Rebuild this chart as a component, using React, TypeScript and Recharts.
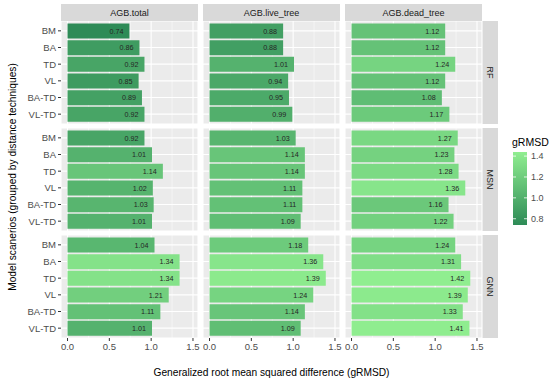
import { BarChart, Bar, XAxis, YAxis, CartesianGrid, Cell, LabelList } from 'recharts';

const SCENARIOS = ['BM', 'BA', 'TD', 'VL', 'BA-TD', 'VL-TD'];
const RESPONSES = ['AGB.total', 'AGB.live_tree', 'AGB.dead_tree'];
const MODELS = ['RF', 'MSN', 'GNN'];

const RF_TOTAL = [0.74, 0.86, 0.92, 0.85, 0.89, 0.92];
const RF_LIVE = [0.88, 0.88, 1.01, 0.94, 0.95, 0.99];
const RF_DEAD = [1.12, 1.12, 1.24, 1.12, 1.08, 1.17];
const MSN_TOTAL = [0.92, 1.01, 1.14, 1.02, 1.03, 1.01];
const MSN_LIVE = [1.03, 1.14, 1.14, 1.11, 1.11, 1.09];
const MSN_DEAD = [1.27, 1.23, 1.28, 1.36, 1.16, 1.22];
const GNN_TOTAL = [1.04, 1.34, 1.34, 1.21, 1.11, 1.01];
const GNN_LIVE = [1.18, 1.36, 1.39, 1.24, 1.14, 1.09];
const GNN_DEAD = [1.24, 1.31, 1.42, 1.39, 1.33, 1.41];

const X_TICKS = [0, 0.5, 1, 1.5];
const X_MINOR = [0.25, 0.75, 1.25];
const LEGEND_TICKS = [1.4, 1.2, 1.0, 0.8];

const GRID = [
  [RF_TOTAL, RF_LIVE, RF_DEAD],
  [MSN_TOTAL, MSN_LIVE, MSN_DEAD],
  [GNN_TOTAL, GNN_LIVE, GNN_DEAD],
];

const LOW = [46, 139, 87]; // seagreen
const HIGH = [144, 238, 144]; // lightgreen
const VMIN = 0.74;
const VMAX = 1.42;

function fillFor(v: number) {
  const t = Math.max(0, Math.min(1, (v - VMIN) / (VMAX - VMIN)));
  const c = LOW.map((l, i) => Math.round(l + (HIGH[i] - l) * t));
  return `rgb(${c[0]},${c[1]},${c[2]})`;
}

const FONT = '"Liberation Sans", Arial, sans-serif';
const COL_X = [61, 203, 345];
const ROW_Y = [21, 128, 235];
const PW = 137;
const PH = 103;
const YAXIS_W = 55;
const XAXIS_H = 22;
const EXTRA_R = 10;

function Panel({ values, row, col }: { values: number[]; row: number; col: number }) {
  const data = SCENARIOS.map((s, i) => ({ scenario: s, value: values[i] }));
  const showY = col === 0;
  const showX = row === 2;
  const w = PW + (showY ? YAXIS_W : 0) + EXTRA_R;
  const h = PH + (showX ? XAXIS_H : 0);
  return (
    <div style={{ position: 'absolute', left: COL_X[col] - (showY ? YAXIS_W : 0), top: ROW_Y[row] }}>
      <BarChart width={w} height={h} data={data} layout="vertical" margin={{ top: 0, right: EXTRA_R, bottom: 0, left: 0 }}>
        <CartesianGrid stroke="#ffffff" strokeWidth={1.1} fill="#EBEBEB" fillOpacity={1} />
        <CartesianGrid stroke="#ffffff" strokeWidth={0.5} horizontal={false} verticalValues={X_MINOR} />
        <XAxis
          type="number"
          domain={[-0.078, 1.56]}
          allowDataOverflow
          ticks={X_TICKS}
          interval={0}
          hide={!showX}
          height={XAXIS_H}
          axisLine={false}
          tickSize={3}
          tickLine={{ stroke: '#333333' }}
          tick={{ fontSize: 9.5, fill: '#4D4D4D', fontFamily: FONT }}
          tickFormatter={(v: number) => v.toFixed(1)}
        />
        <YAxis
          type="category"
          dataKey="scenario"
          hide={!showY}
          width={YAXIS_W}
          interval={0}
          padding={{ top: 1.5, bottom: 1.5 }}
          axisLine={false}
          tickSize={3}
          tickLine={{ stroke: '#333333' }}
          tick={{ fontSize: 9.5, fill: '#4D4D4D', fontFamily: FONT }}
        />
        <Bar dataKey="value" barSize={15} isAnimationActive={false}>
          {data.map((d, i) => (
            <Cell key={`c-${i}`} fill={fillFor(d.value)} />
          ))}
          <LabelList
            dataKey="value"
            position="insideRight"
            offset={6}
            formatter={(v: number) => v.toFixed(2)}
            style={{ fontSize: 7.2, fill: '#262626', fontFamily: FONT }}
          />
        </Bar>
      </BarChart>
    </div>
  );
}

export default function App() {
  return (
    <div style={{ position: 'absolute', left: 0, top: 0, width: 550, height: 382, background: '#fff', fontFamily: FONT }}>
      <svg width={550} height={382} style={{ position: 'absolute', left: 0, top: 0 }}>
        <defs>
          <linearGradient id="gbar" x1="0" y1="1" x2="0" y2="0">
            <stop offset="0%" stopColor={fillFor(VMIN)} />
            <stop offset="50%" stopColor={fillFor((VMIN + VMAX) / 2)} />
            <stop offset="100%" stopColor={fillFor(VMAX)} />
          </linearGradient>
        </defs>
        {RESPONSES.map((r, c) => (
          <g key={r}>
            <rect x={COL_X[c]} y={4} width={PW} height={17} fill="#D9D9D9" />
            <text x={COL_X[c] + PW / 2} y={16} textAnchor="middle" fontSize={9} fill="#1A1A1A" fontFamily={FONT}>
              {r}
            </text>
          </g>
        ))}
        {MODELS.map((m, r) => (
          <g key={m}>
            <rect x={482} y={ROW_Y[r]} width={16} height={PH} fill="#D9D9D9" />
            <text
              transform={`translate(486.5, ${ROW_Y[r] + PH / 2}) rotate(90)`}
              textAnchor="middle"
              fontSize={9}
              fill="#1A1A1A"
              fontFamily={FONT}
            >
              {m}
            </text>
          </g>
        ))}
        <text x={271.5} y={375.5} textAnchor="middle" fontSize={10.2} fill="#000" fontFamily={FONT}>
          Generalized root mean squared difference (gRMSD)
        </text>
        <text
          transform="translate(15.5, 177) rotate(-90)"
          textAnchor="middle"
          fontSize={10.2}
          fill="#000"
          fontFamily={FONT}
        >
          Model scanerios (grouped by distance techniques)
        </text>
        <text x={512} y={146} fontSize={10.5} fill="#000" fontFamily={FONT}>
          gRMSD
        </text>
        <rect x={513} y={152} width={14} height={73} fill="url(#gbar)" />
        {LEGEND_TICKS.map((t) => {
          const y = 154 + ((VMAX - t) / (VMAX - VMIN)) * 71;
          return (
            <g key={t}>
              <line x1={513} x2={516} y1={y} y2={y} stroke="#fff" strokeWidth={0.8} />
              <line x1={524} x2={527} y1={y} y2={y} stroke="#fff" strokeWidth={0.8} />
              <text x={531} y={y + 3.2} fontSize={9} fill="#4D4D4D" fontFamily={FONT}>
                {t.toFixed(1)}
              </text>
            </g>
          );
        })}
      </svg>
      {GRID.map((rowVals, r) =>
        rowVals.map((vals, c) => <Panel key={`${r}-${c}`} values={vals} row={r} col={c} />)
      )}
    </div>
  );
}
